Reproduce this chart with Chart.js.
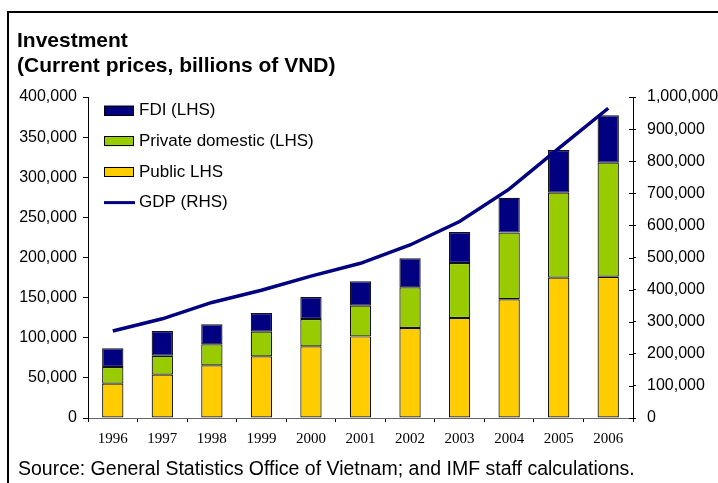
<!DOCTYPE html>
<html>
<head>
<meta charset="utf-8">
<script src="https://cdn.jsdelivr.net/npm/chart.js@4.4.1/dist/chart.umd.min.js"></script>
<style>
  body { margin: 0; background: #fff; }
  #wrap { position: relative; width: 718px; height: 483px; overflow: hidden; }
  #frame { position: absolute; left: 7px; top: 11px; right: -4px; bottom: -4px;
           border-top: 2px solid #000; border-left: 2px solid #000; }
  #title { position: absolute; left: 17px; top: 27px; font: bold 21px "Liberation Sans", Arial, sans-serif;
           line-height: 25px; color: #000; white-space: nowrap; }
  #source { position: absolute; left: 18px; top: 458px; font: 19.5px "Liberation Sans", Arial, sans-serif;
            line-height: 20px; color: #000; white-space: nowrap; }
  canvas { position: absolute; left: 0; top: 0; }
</style>
</head>
<body>
<div id="wrap">
  <div id="frame"></div>
  <canvas id="chart" width="718" height="483"></canvas>
  <div id="title">Investment<br>(Current prices, billions of VND)</div>
  <div id="source">Source: General Statistics Office of Vietnam; and IMF staff calculations.</div>
</div>
<script>
// data (billions of VND)
const years = ['1996', '1997', '1998', '1999', '2000', '2001', '2002', '2003', '2004', '2005', '2006'];
const publicInv = [42800, 54000, 65600, 76800, 89300, 101700, 112100, 124600, 147900, 174900, 176100];
const privateInv = [20800, 23600, 26200, 30800, 34100, 38300, 50700, 68500, 83100, 105900, 142100];
const fdiInv = [23300, 30800, 24900, 23200, 27400, 30300, 36200, 38700, 43500, 53200, 59000];
const gdp = [271000, 309000, 360000, 398000, 442000, 482000, 539000, 612000, 713000, 840000, 965000];

const fontSans = '"Liberation Sans", Arial, sans-serif';
const fontSerif = '"Liberation Serif", "Times New Roman", serif';

const fmt = v => Number(v).toLocaleString('en-US');

// legend drawn inside the plot, top-left, one item per row
const insideLegend = {
    id: 'insideLegend',
    afterDraw(chart) {
        const ctx = chart.ctx;
        const ds = chart.data.datasets;
        const items = ds.filter(d => d.type === 'bar').reverse().concat(ds.filter(d => d.type === 'line'));
        ctx.save();
        ctx.font = '17px ' + fontSans;
        ctx.textBaseline = 'middle';
        items.forEach((d, i) => {
            const cy = 110.5 + i * 30.7;
            if (d.type === 'bar') {
                ctx.fillStyle = d.backgroundColor;
                ctx.fillRect(104, cy - 5, 30, 10);
                ctx.strokeStyle = '#000';
                ctx.lineWidth = 1;
                ctx.strokeRect(104.5, Math.round(cy - 5) + 0.5, 29, 9);
            } else {
                ctx.strokeStyle = d.borderColor;
                ctx.lineWidth = 3;
                ctx.beginPath();
                ctx.moveTo(104, cy);
                ctx.lineTo(135, cy);
                ctx.stroke();
            }
            ctx.fillStyle = '#000';
            ctx.fillText(d.label, 139, cy);
        });
        ctx.restore();
    }
};

// right axis tick marks cross the axis line
const crossTicks = {
    id: 'crossTicks',
    afterDraw(chart) {
        const s = chart.scales.y1;
        const ctx = chart.ctx;
        ctx.save();
        ctx.strokeStyle = '#000';
        ctx.lineWidth = 1;
        s.ticks.forEach(t => {
            const y = Math.round(s.getPixelForValue(t.value)) + 0.5;
            ctx.beginPath();
            ctx.moveTo(s.left - 4, y);
            ctx.lineTo(s.left, y);
            ctx.stroke();
        });
        ctx.restore();
    }
};

const barStyle = { type: 'bar', yAxisID: 'y', borderColor: '#111', borderWidth: 1.2, borderSkipped: false,
                   barPercentage: 0.43, categoryPercentage: 1, order: 1 };

new Chart(document.getElementById('chart'), {
    data: {
        labels: years,
        datasets: [
            { ...barStyle, label: 'Public LHS', data: publicInv, backgroundColor: '#FFCC00' },
            { ...barStyle, label: 'Private domestic (LHS)', data: privateInv, backgroundColor: '#99CC00' },
            { ...barStyle, label: 'FDI (LHS)', data: fdiInv, backgroundColor: '#000080' },
            { type: 'line', label: 'GDP (RHS)', data: gdp, yAxisID: 'y1', borderColor: '#000080',
              borderWidth: 3.5, pointRadius: 0, tension: 0, fill: false, order: 0 }
        ]
    },
    options: {
        responsive: false,
        animation: false,
        layout: { padding: { top: 97, bottom: 0, left: 0, right: 0 } },
        plugins: { legend: { display: false }, tooltip: { enabled: false }, title: { display: false } },
        scales: {
            x: {
                stacked: true,
                afterFit: s => { s.height = 65; },
                border: { display: true, color: '#666', width: 1 },
                grid: { offset: true, drawOnChartArea: false, drawTicks: true, tickLength: 4, color: '#000' },
                ticks: { color: '#000', padding: 8, font: { family: fontSerif, size: 15 } }
            },
            y: {
                position: 'left',
                stacked: true,
                min: 0, max: 400000,
                afterFit: s => { s.width = 88; },
                border: { display: true, color: '#000', width: 1 },
                grid: { drawOnChartArea: false, drawTicks: true, tickLength: 5, color: '#000' },
                ticks: { stepSize: 50000, color: '#000', padding: 6, callback: fmt,
                         font: { family: fontSans, size: 16 } }
            },
            y1: {
                position: 'right',
                min: 0, max: 1000000,
                afterFit: s => { s.width = 85; },
                border: { display: true, color: '#000', width: 1 },
                grid: { drawOnChartArea: false, drawTicks: true, tickLength: 3, color: '#000' },
                ticks: { stepSize: 100000, color: '#000', padding: 11, callback: fmt,
                         font: { family: fontSans, size: 16 } }
            }
        }
    },
    plugins: [insideLegend, crossTicks]
});
</script>
</body>
</html>
